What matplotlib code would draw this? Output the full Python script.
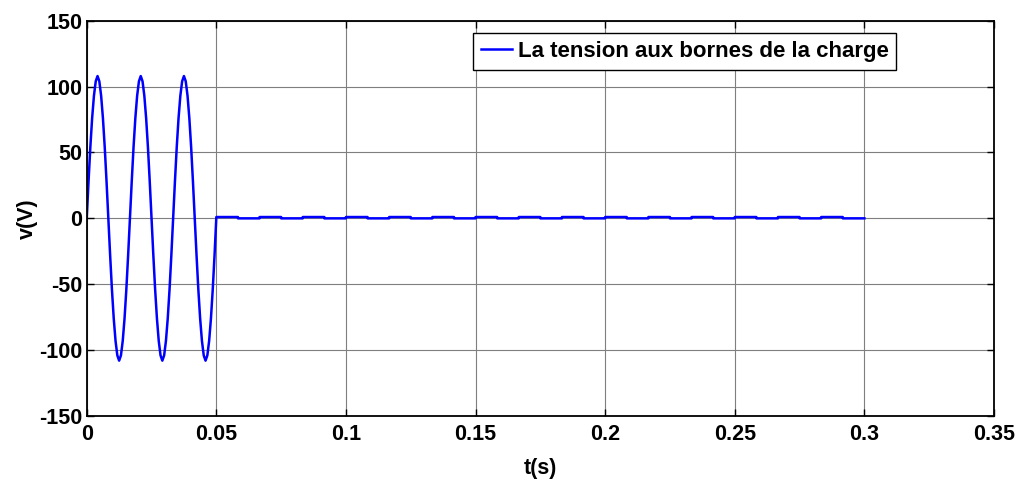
import numpy as np
import matplotlib
matplotlib.use("Agg")
import matplotlib.pyplot as plt

plt.rcParams['font.family'] = ['Liberation Sans', 'DejaVu Sans']
plt.rcParams['font.weight'] = 'bold'
plt.rcParams['axes.unicode_minus'] = False

# sinusoidal part, 0 -> 0.05 s (values read every 1/24 of a period)
t_sine = np.linspace(0, 0.05, 73)
v_sine = [0, 28, 54, 76, 93, 104, 108, 104, 93, 76, 54, 28,
          0, -28, -54, -76, -93, -104, -108, -104, -93, -76, -54, -28,
          0, 28, 54, 76, 93, 104, 108, 104, 93, 76, 54, 28,
          0, -28, -54, -76, -93, -104, -108, -104, -93, -76, -54, -28,
          0, 28, 54, 76, 93, 104, 108, 104, 93, 76, 54, 28,
          0, -28, -54, -76, -93, -104, -108, -104, -93, -76, -54, -28,
          0]

# small ripple after the cut, 0.05 -> 0.3 s (level of each half period)
t_steps = np.linspace(0.05, 0.3, 31)
v_steps = [1, 0, 1, 0, 1, 0, 1, 0, 1, 0, 1, 0, 1, 0, 1,
           0, 1, 0, 1, 0, 1, 0, 1, 0, 1, 0, 1, 0, 1, 0]

x_ticks = [0, 0.05, 0.1, 0.15, 0.2, 0.25, 0.3, 0.35]
x_labels = ["0", "0.05", "0.1", "0.15", "0.2", "0.25", "0.3", "0.35"]
y_ticks = [-150, -100, -50, 0, 50, 100, 150]

# build the full trace
t_all = list(t_sine)
v_all = list(v_sine)
for i in range(len(v_steps)):
    t_all += [t_steps[i], t_steps[i + 1]]
    v_all += [v_steps[i], v_steps[i]]

fig = plt.figure(figsize=(10.18, 4.79), dpi=100)
ax = fig.add_axes([0.0852, 0.1315, 0.8912, 0.8253])

ax.plot(t_all, v_all, color="#0000ff", linewidth=1.8, label="La tension aux bornes de la charge")

ax.set_xlim(0, 0.35)
ax.set_ylim(-150, 150)
ax.set_xticks(x_ticks)
ax.set_xticklabels(x_labels)
ax.set_yticks(y_ticks)
ax.grid(True, color="#7f7f7f", linewidth=0.8, linestyle="-")
ax.tick_params(direction="in", top=True, right=True, length=5, width=1,
               labelsize=15.5)
ax.tick_params(axis="x", pad=6)
ax.tick_params(axis="y", pad=3)
for s in ax.spines.values():
    s.set_linewidth(1.3)

ax.set_xlabel("t(s)", fontsize=15.5, fontweight="bold", labelpad=9)
ax.set_ylabel("v(V)", fontsize=15.5, fontweight="bold", labelpad=1)

leg = ax.legend(loc="upper left", bbox_to_anchor=(0.426, 0.969), fontsize=16,
                fancybox=False, framealpha=1, edgecolor="black",
                handlelength=1.4, handletextpad=0.25, borderpad=0.35,
                borderaxespad=0)
leg.get_frame().set_linewidth(1.0)

fig.savefig("out.png", dpi=100)
